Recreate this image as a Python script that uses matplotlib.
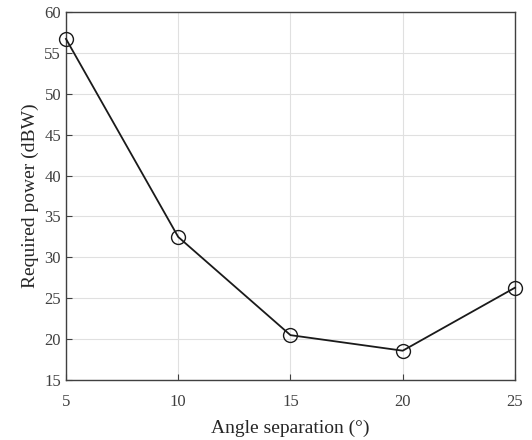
import numpy as np
import matplotlib.pyplot as plt

plt.rcParams['font.family'] = ['Liberation Serif', 'DejaVu Serif']

# data
angle_sep = [5, 10, 15, 20, 25]
power_dbw = [56.7, 32.5, 20.5, 18.6, 26.3]
x_ticks = [5, 10, 15, 20, 25]
y_ticks = [15, 20, 25, 30, 35, 40, 45, 50, 55, 60]

fig = plt.figure(figsize=(5.32, 4.40), dpi=100)
ax = fig.add_axes([0.124, 0.136, 0.844, 0.837])

ax.plot(angle_sep, power_dbw, color='#1a1a1a', linewidth=1.3,
        marker='o', markersize=10, markerfacecolor='none',
        markeredgecolor='#1a1a1a', markeredgewidth=1.0, clip_on=False, zorder=3)

ax.set_xlim(5, 25)
ax.set_ylim(15, 60)
ax.set_xticks(x_ticks)
ax.set_yticks(y_ticks)
ax.grid(True, color='#e0e0e0', linewidth=0.8)
ax.set_axisbelow(True)

for sp in ax.spines.values():
    sp.set_color('#404040')
    sp.set_linewidth(1.0)
ax.tick_params(direction='in', length=4, width=0.8, color='#404040',
               labelcolor='#404040', labelsize=12, top=False, right=False)
ax.tick_params(axis='x', pad=10)

ax.set_xlabel('Angle separation (°)', fontsize=14, color='#262626', labelpad=7)
ax.set_ylabel('Required power (dBW)', fontsize=14, color='#262626', labelpad=4)

fig.savefig('out.png', dpi=100)
